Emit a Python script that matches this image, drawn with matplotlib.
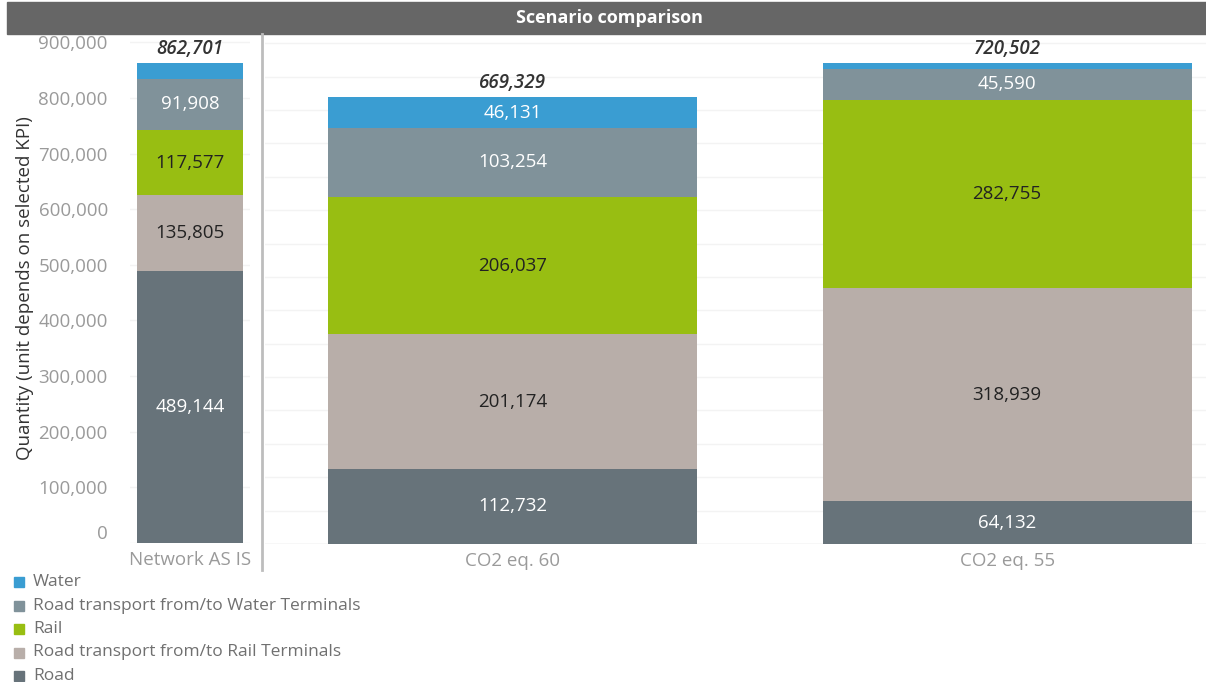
import matplotlib.pyplot as plt
from matplotlib.patches import Rectangle

plt.rcParams["font.family"] = ["Open Sans", "DejaVu Sans"]

scenarios = ["Network AS IS", "CO2 eq. 60", "CO2 eq. 55"]
modes = ["Road", "Road transport from/to Rail Terminals", "Rail",
         "Road transport from/to Water Terminals", "Water"]
road = [489144, 112732, 64132]
road_rail = [135805, 201174, 318939]
rail = [117577, 206037, 282755]
road_water = [91908, 103254, 45590]
water = [28267, 46131, 9086]
totals = [862701, 669329, 720502]

colors = ["#67737a", "#b8aea9", "#98be12", "#80929a", "#3a9dd2"]
text_colors = ["white", "#222222", "#222222", "white", "white"]
series = [road, road_rail, rail, road_water, water]

W, H = 1206, 682
fig = plt.figure(figsize=(W / 100, H / 100), dpi=100)


def px_axes(x0, y0, x1, y1):
    return fig.add_axes([x0 / W, 1 - y1 / H, (x1 - x0) / W, (y1 - y0) / H])


# title bar
fig.patches.append(Rectangle((7 / W, 1 - 34 / H), 1 - 7 / W, 32 / H,
                             transform=fig.transFigure, color="#666666"))
fig.text(609 / W, 1 - 18 / H, "Scenario comparison", color="white",
         fontsize=13, fontweight="bold", ha="center", va="center")

ax_left = px_axes(130, 34, 250, 543)
ax_right = px_axes(265, 34, 1206, 544)


def draw_stack(ax, idx, positions, width):
    bottoms = [0] * len(idx)
    for vals, col, tcol in zip(series, colors, text_colors):
        v = [vals[i] for i in idx]
        ax.bar(positions, v, width, bottom=bottoms, color=col, zorder=2)
        for p, b, val in zip(positions, bottoms, v):
            if val >= 30000:
                ax.text(p, b + val / 2, f"{val:,}", ha="center", va="center",
                        color=tcol, fontsize=13.5, zorder=3)
        bottoms = [b + val for b, val in zip(bottoms, v)]
    for p, b, i in zip(positions, bottoms, idx):
        ax.annotate(f"{totals[i]:,}", (p, b), xytext=(0, 3),
                    textcoords="offset points", ha="center", va="bottom",
                    fontsize=13.5, fontweight="semibold", style="italic",
                    color="#333333")


draw_stack(ax_left, [0], [0], 0.89)
ax_left.set_xlim(-0.5, 0.5)
ax_left.set_ylim(0, 915000)
ax_left.set_yticks(range(0, 900001, 100000))
ax_left.set_yticklabels([f"{t:,}" for t in range(0, 900001, 100000)])
ax_left.get_yticklabels()[0].set_va("bottom")
ax_left.set_ylabel("Quantity (unit depends on selected KPI)", fontsize=13.5,
                   color="#333333", labelpad=3)
ax_left.set_xticks([0])
ax_left.set_xticklabels([scenarios[0]])

draw_stack(ax_right, [1, 2], [0, 1], 0.746)
ax_right.set_xlim(-0.5, 1.402)
ax_right.set_ylim(0, 764000)
ax_right.set_yticks(range(0, 750001, 50000))
ax_right.set_yticklabels([])
ax_right.set_xticks([0, 1])
ax_right.set_xticklabels(scenarios[1:])

for ax in (ax_left, ax_right):
    for s in ax.spines.values():
        s.set_visible(False)
    ax.tick_params(length=0, labelsize=13.5, labelcolor="#9a9a9a")
    ax.tick_params(axis="y", pad=16)
    ax.tick_params(axis="x", pad=6)
    ax.grid(axis="y", color="#f3f3f3", linewidth=1, zorder=0)
    ax.set_axisbelow(True)
ax_right.axhline(0, color="#e4e4e4", linewidth=1, zorder=1)

# pane separator
fig.add_artist(plt.Line2D([262 / W, 262 / W], [1 - 34 / H, 1 - 570 / H],
                          transform=fig.transFigure, color="#bdbdbd",
                          linewidth=2))

# legend
for k, (name, col) in enumerate(zip(modes[::-1], colors[::-1])):
    y = 582 + k * 23.5
    fig.patches.append(Rectangle((14 / W, 1 - (y + 5) / H), 10 / W, 10 / H,
                                 transform=fig.transFigure, color=col))
    fig.text(33 / W, 1 - y / H, name, fontsize=12.5, color="#707070",
             va="center", ha="left")

fig.savefig("out.png", dpi=100)
